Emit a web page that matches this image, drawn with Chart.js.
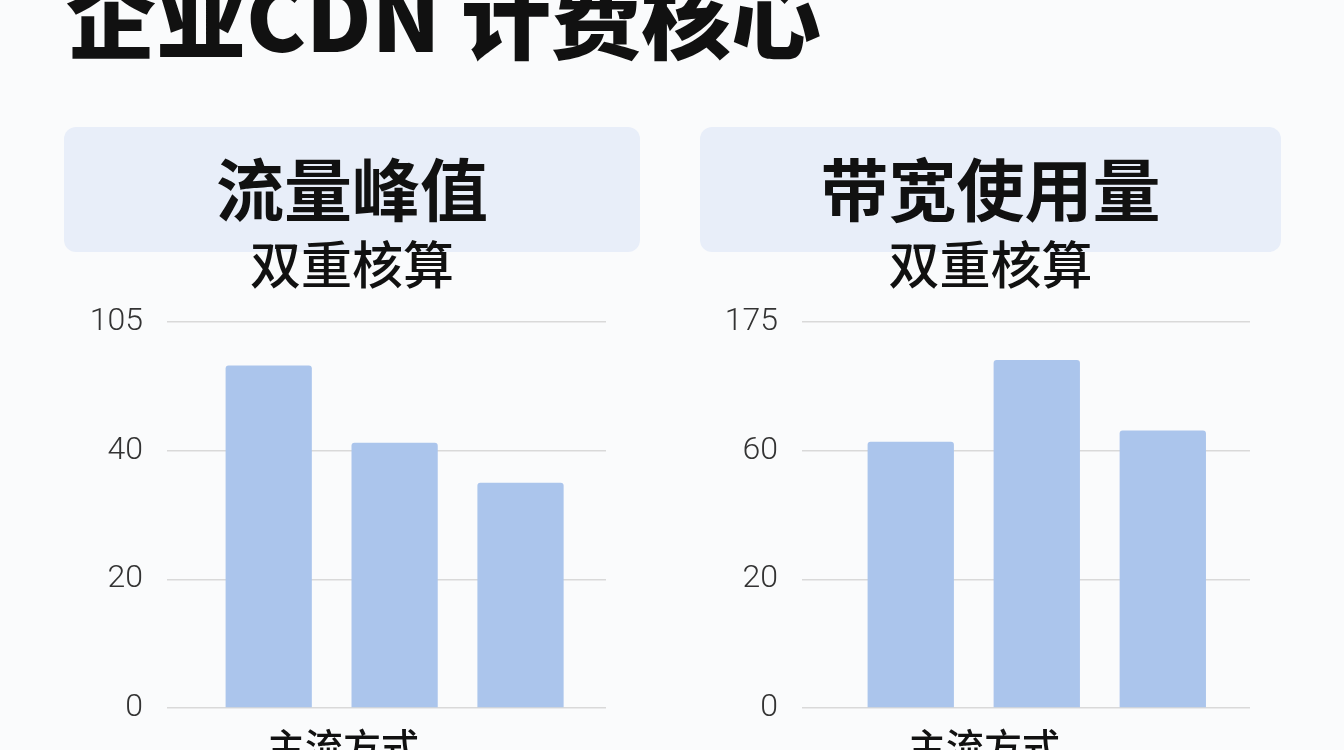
<!DOCTYPE html>
<html>
<head>
<meta charset="utf-8">
<script src="https://cdn.jsdelivr.net/npm/chart.js@4"></script>
<style>
  html, body { margin: 0; padding: 0; }
  body {
    width: 1344px; height: 750px; overflow: hidden; position: relative;
    background: #fafbfc;
    font-family: "Noto Sans CJK SC", "Noto Sans", sans-serif;
    color: #111;
  }
  .title {
    position: absolute; left: 66px; top: -32px;
    font-size: 90px; line-height: 1; font-weight: 900; white-space: nowrap;
  }
  .head {
    position: absolute; top: 127px; height: 125px;
    background: #e8eef9; border-radius: 12px;
  }
  .head-main, .head-sub, .axis-name {
    position: absolute; text-align: center; line-height: 1; white-space: nowrap;
  }
  .head-main { font-size: 68px; font-weight: 700; }
  .head-sub { font-size: 51px; font-weight: 500; }
  .axis-name { font-size: 38px; font-weight: 500; top: 726px; width: 300px; }
  .box { position: absolute; top: 300px; width: 560px; height: 430px; }
</style>
</head>
<body>
<div class="title">企业CDN 计费核心</div>

<div class="head" style="left:64px; width:576px;"></div>
<div class="head-main" style="left:64px; width:576px; top:153px;">流量峰值</div>
<div class="head-sub" style="left:64px; width:576px; top:237px;">双重核算</div>

<div class="head" style="left:700px; width:581px;"></div>
<div class="head-main" style="left:700px; width:581px; top:153px;">带宽使用量</div>
<div class="head-sub" style="left:700px; width:581px; top:237px;">双重核算</div>

<div class="box" style="left:60px;"><canvas id="peakChart"></canvas></div>
<div class="box" style="left:700px;"><canvas id="bandwidthChart"></canvas></div>

<div class="axis-name" style="left:193px;">主流方式</div>
<div class="axis-name" style="left:834px;">主流方式</div>

<script>
// tick labels are spaced evenly even though the values are not
const peakTicks = [0, 20, 40, 105];
const bandwidthTicks = [0, 20, 60, 175];

// three unnamed methods per panel
const peakValues = [83, 44, 35];
const bandwidthValues = [68, 141, 78];

const barColor = "#abc5ec";
const gridColor = "#d9d9d9";

// y scale that puts each tick at an equal step and interpolates between them
class SteppedScale extends Chart.LinearScale {
    determineDataLimits() {
        const steps = this.options.steps;
        this.min = steps[0];
        this.max = steps[steps.length - 1];
    }
    buildTicks() {
        return this.options.steps.map(v => ({ value: v }));
    }
    getPixelForValue(value) {
        const steps = this.options.steps;
        const n = steps.length - 1;
        let i = 0;
        while (i < n - 1 && value > steps[i + 1]) i++;
        const pos = i + (value - steps[i]) / (steps[i + 1] - steps[i]);
        return this.getPixelForDecimal(pos / n);
    }
    getValueForPixel(pixel) {
        const steps = this.options.steps;
        const n = steps.length - 1;
        const pos = Math.min(Math.max(this.getDecimalForPixel(pixel) * n, 0), n);
        const i = Math.min(Math.floor(pos), n - 1);
        return steps[i] + (pos - i) * (steps[i + 1] - steps[i]);
    }
}
SteppedScale.id = "stepped";
SteppedScale.defaults = Chart.LinearScale.defaults;
Chart.register(SteppedScale);

Chart.defaults.animation = false;

function makeChart(canvasId, values, steps, xMin, xMax, axisWidth, padRight) {
    const ctx = document.getElementById(canvasId).getContext("2d");
    return new Chart(ctx, {
        type: "bar",
        data: {
            datasets: [{
                data: values.map((v, i) => ({ x: i, y: v })),
                backgroundColor: barColor,
                borderRadius: 3,
                barPercentage: 0.685,
                categoryPercentage: 1
            }]
        },
        options: {
            responsive: true,
            maintainAspectRatio: false,
            layout: { padding: { top: 22, bottom: 22, right: padRight } },
            plugins: {
                legend: { display: false },
                tooltip: { enabled: false }
            },
            scales: {
                x: {
                    type: "linear",
                    min: xMin,
                    max: xMax,
                    offset: false,
                    display: false,
                    ticks: { stepSize: 1, includeBounds: false }
                },
                y: {
                    type: "stepped",
                    steps: steps,
                    border: { display: false },
                    grid: {
                        color: gridColor,
                        lineWidth: 1.5,
                        tickLength: 24,
                        tickColor: "rgba(0,0,0,0)"
                    },
                    ticks: {
                        padding: 0,
                        color: "#333",
                        font: { family: "Roboto", size: 32, weight: 300 }
                    },
                    afterFit: scale => { scale.width = axisWidth; }
                }
            }
        }
    });
}

makeChart("peakChart", peakValues, peakTicks, -0.808, 2.679, 107, 14);
makeChart("bandwidthChart", bandwidthValues, bandwidthTicks, -0.863, 2.692, 102, 10);
</script>
</body>
</html>
